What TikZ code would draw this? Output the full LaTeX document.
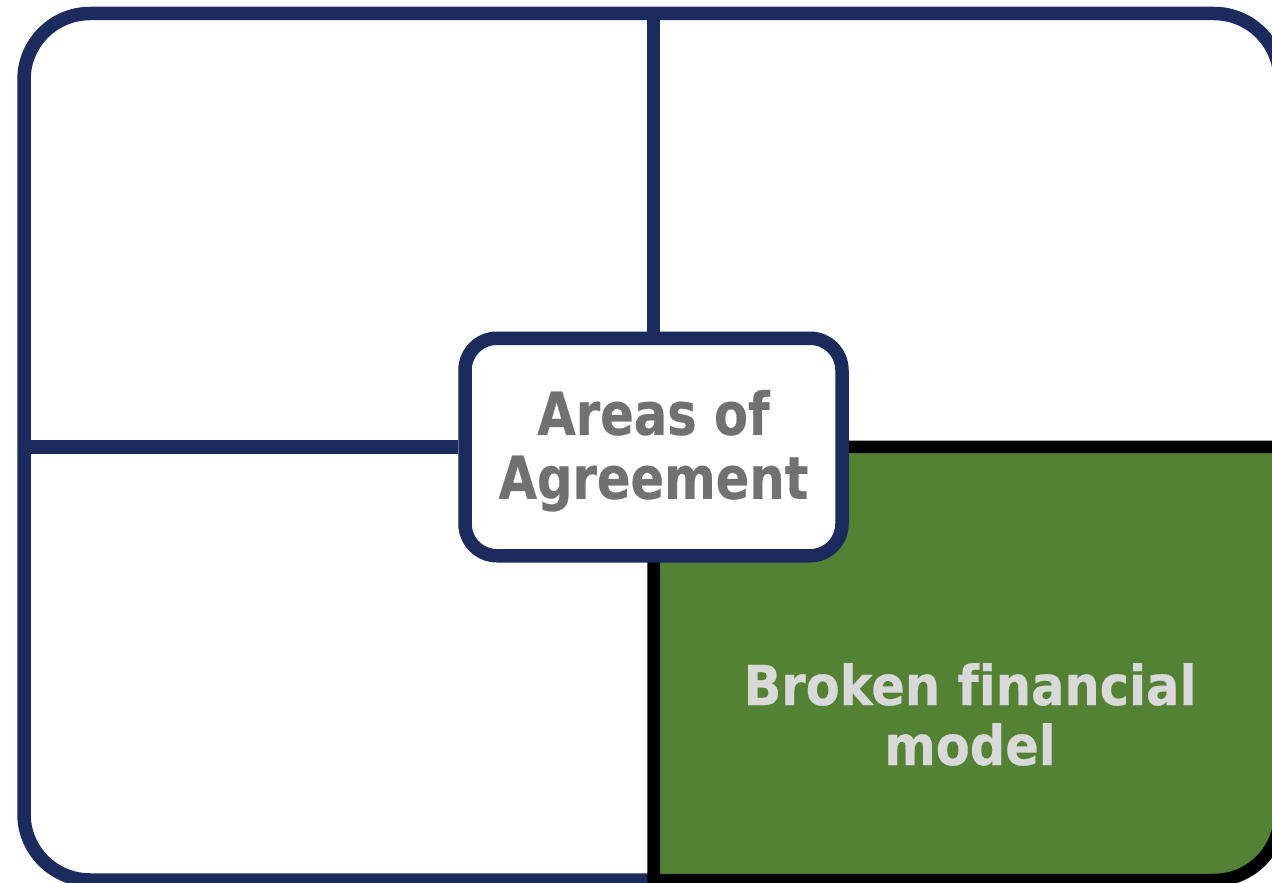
\documentclass[tikz,border=0pt]{standalone}
\usepackage{fontspec}
\newfontfamily\areafont{DejaVu Sans}[FakeStretch=0.84,FakeBold=0.4,Ligatures=NoCommon]
\newfontfamily\brokenfont{DejaVu Sans}[FakeStretch=0.9,FakeBold=0.4,Ligatures=NoCommon]
\definecolor{navy}{HTML}{1B2B5E}
\definecolor{quadgreen}{HTML}{548235}
\definecolor{areagray}{HTML}{717171}
\definecolor{lightgray}{HTML}{D9D9D9}
\tikzset{
  frame/.style={draw=navy, line width=13.5pt},
  divider/.style={draw=navy, line width=13.5pt},
  quad/.style={fill=quadgreen, draw=black, line width=12.5pt},
  centerbox/.style={draw=navy, fill=white, line width=13.5pt, rounded corners=32pt,
    minimum width=377pt, minimum height=217.5pt, inner sep=0pt, align=center,
    text=areagray, font=\areafont\bfseries\fontsize{59}{64}\selectfont,
    text height=105pt, text depth=1.5pt},
  quadtext/.style={text=lightgray, align=center, inner sep=0pt,
    font=\brokenfont\bfseries\fontsize{55}{60}\selectfont}
}
\begin{document}
\begin{tikzpicture}[x=1pt,y=-1pt]
\useasboundingbox (0,0) rectangle (1272,883);
\fill[white] (0,0) rectangle (1272,883);
% outer frame
\draw[frame, rounded corners=66pt] (24,13.5) rectangle (1280,880);
% green quadrant
\path[quad] (653.5,446.75) -- (1280,446.75) -- (1280,814)
  arc[start angle=0, end angle=90, radius=66] -- (653.5,880) -- cycle;
\node[quadtext, anchor=base] (broken) at (970,765) {Broken financial\\model};
% centre box
\node[centerbox] (ctr) at (653.5,447) {Areas of\\Agreement};
% dividers
\coordinate (topend) at (653.5,13.5);
\coordinate (leftend) at (24,447);
\draw[divider] (topend) -- (ctr.north);
\draw[divider] (leftend) -- (ctr.west);
\end{tikzpicture}
\end{document}
